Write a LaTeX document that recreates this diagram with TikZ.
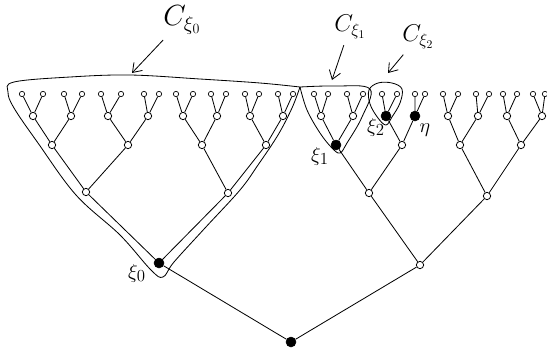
\documentclass[tikz,border=0pt]{standalone}
\usetikzlibrary{arrows.meta}

\begin{document}
\begin{tikzpicture}[
    x=0.03cm, y=-0.03cm,
    % Define vertex styles
    leaf/.style={circle, draw, line width=0.6pt, inner sep=0pt, minimum size=0.16cm},
    vertex/.style={circle, draw, line width=0.7pt, inner sep=0pt, minimum size=0.22cm},
    marked/.style={circle, draw, fill=black, inner sep=0pt, minimum size=0.3cm},
    % Define line styles
    edge/.style={line width=0.7pt},
    cone/.style={line width=0.7pt},
    arrow/.style={-{Straight Barb[length=2.5mm, width=3.5mm]}, line width=0.7pt, shorten <=2pt},
    % Labels
    biglab/.style={font=\fontsize{24}{26}\selectfont},
    midlab/.style={font=\fontsize{20}{22}\selectfont},
    nodelab/.style={font=\fontsize{19}{21}\selectfont}
]
    \useasboundingbox (0,0) rectangle (547,351);

    % Leaves
    \foreach \x [count=\i] in {22,43,64,82,101,121,144,159,176,193,211,226,245,259,278,293,
                               314,328,347,363,382,397,415,425,443,458,476,489,503,517,533,545}
        \node[leaf] (l\i) at (\x,94) {};

    % Level 4
    \foreach \x/\s [count=\i] in {33/vertex,71/vertex,108/vertex,148/vertex,183/vertex,217/vertex,250/vertex,283/vertex,
                                  321/vertex,353/vertex,386/marked,415/marked,448/vertex,478/vertex,507/vertex,542/vertex}
        \node[\s] (a\i) at (\x,116) {};

    % Level 3
    \foreach \x/\s [count=\i] in {52/vertex,128/vertex,202/vertex,266/vertex,336/marked,402/vertex,460/vertex,521/vertex}
        \node[\s] (b\i) at (\x,145) {};

    % Level 2
    \node[vertex] (c1) at (86,192) {};
    \node[vertex] (c2) at (228,193) {};
    \node[vertex] (c3) at (369,193) {};
    \node[vertex] (c4) at (487,196) {};

    % Level 1 and root
    \node[marked] (d1) at (159,263) {};
    \node[vertex] (d2) at (420,265) {};
    \node[marked] (root) at (291,342) {};

    % Edges
    \foreach \i in {1,...,16} {
        \pgfmathtruncatemacro\j{2*\i-1}
        \pgfmathtruncatemacro\k{2*\i}
        \draw[edge] (a\i) -- (l\j) (a\i) -- (l\k);
    }
    \foreach \i in {1,...,8} {
        \pgfmathtruncatemacro\j{2*\i-1}
        \pgfmathtruncatemacro\k{2*\i}
        \draw[edge] (b\i) -- (a\j) (b\i) -- (a\k);
    }
    \foreach \i in {1,...,4} {
        \pgfmathtruncatemacro\j{2*\i-1}
        \pgfmathtruncatemacro\k{2*\i}
        \draw[edge] (c\i) -- (b\j) (c\i) -- (b\k);
    }
    \draw[edge] (d1) -- (c1) (d1) -- (c2);
    \draw[edge] (d2) -- (c3) (d2) -- (c4);
    \draw[edge] (root) -- (d1) (root) -- (d2);

    % Cones
    \draw[cone] plot[smooth, tension=0.6] coordinates {(300,87) (292,108) (278,135) (258,165) (240,190)
        (205,228) (174,262) (163,277) (151,270) (120,235) (76,195) (38,143) (14,108) (8,92) (14,82)
        (70,77) (130,75) (200,79) (260,83) (300,87)};
    \draw[cone] plot[smooth, tension=0.6] coordinates {(300,87) (335,86) (370,89) (362,117)
        (347,143) (340,153) (332,148) (320,133) (307,110) (300,87)};
    \draw[cone] plot[smooth cycle, tension=0.6] coordinates {(369,90) (378,83) (392,83) (402,89)
        (400,103) (392,117) (386,125) (378,118) (370,104)};

    % Labels with arrows
    \node[biglab] (C0) at (182,20) {$C_{\xi_0}$};
    \node[midlab] (C1) at (350,27) {$C_{\xi_1}$};
    \node[midlab] (C2) at (418,37) {$C_{\xi_2}$};
    \coordinate (t0) at (132,73);
    \coordinate (t1) at (332,80);
    \coordinate (t2) at (388,73);
    \draw[arrow] (C0) -- (t0);
    \draw[arrow] (C1) -- (t1);
    \draw[arrow] (C2) -- (t2);

    % Vertex labels
    \node[nodelab] (x0) at (137,273) {$\xi_0$};
    \node[nodelab] (x1) at (320,156) {$\xi_1$};
    \node[nodelab] (x2) at (376,127) {$\xi_2$};
    \node[nodelab] (eta) at (425,130) {$\eta$};

\end{tikzpicture}
\end{document}
